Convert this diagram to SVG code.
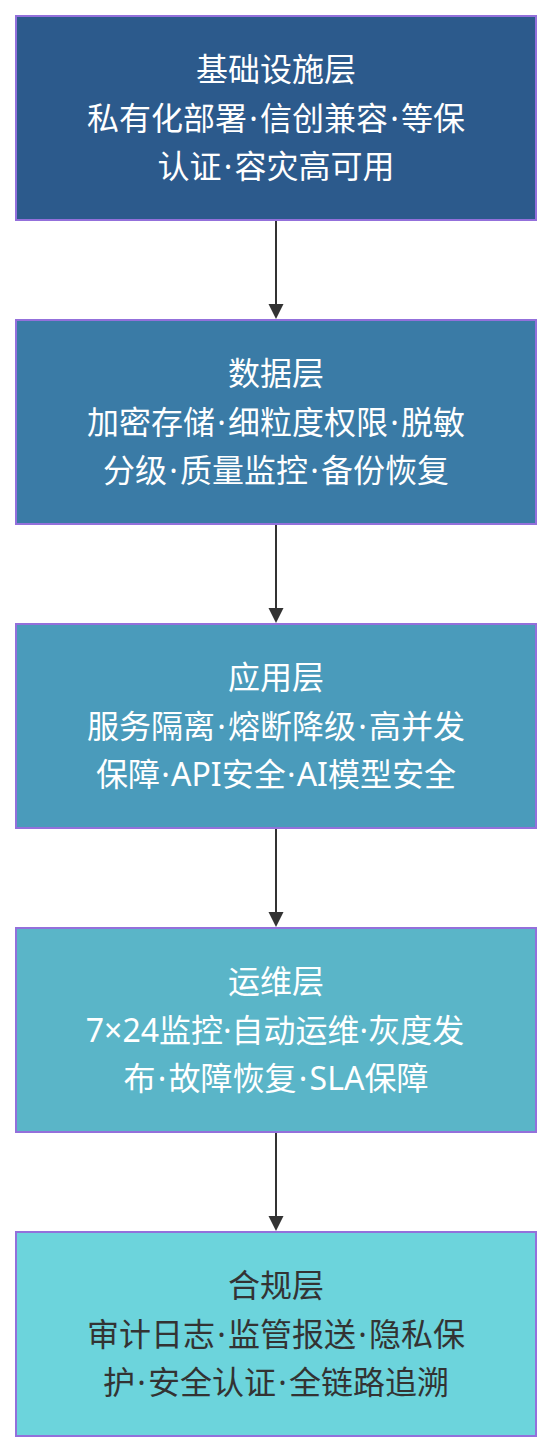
<svg xmlns="http://www.w3.org/2000/svg" width="552" height="1452" viewBox="0 0 552 1452">
<style>
.box{stroke:#9370DB;stroke-width:2}
.t{font-family:"Noto Sans","Noto Sans CJK SC",sans-serif;font-size:32px;text-anchor:middle;fill:#ffffff}
.dark{fill:#333333}
.edge{stroke:#333333;stroke-width:2;fill:none}
</style>
<rect width="552" height="1452" fill="#ffffff"/>
<g id="connectors">
<line class="edge" x1="276" y1="220" x2="276" y2="305"/>
<polygon points="268.5,304 283.5,304 276,319" fill="#333333"/>
<line class="edge" x1="276" y1="524" x2="276" y2="609"/>
<polygon points="268.5,608 283.5,608 276,623" fill="#333333"/>
<line class="edge" x1="276" y1="828" x2="276" y2="913"/>
<polygon points="268.5,912 283.5,912 276,927" fill="#333333"/>
<line class="edge" x1="276" y1="1132" x2="276" y2="1217"/>
<polygon points="268.5,1216 283.5,1216 276,1231" fill="#333333"/>
</g>
<g id="infra">
<rect class="box" x="16" y="16" width="520" height="204" fill="#2C5A8C"/>
<text class="t" x="276" y="81">基础设施层</text>
<text class="t" x="276" y="130">私有化部署<tspan dx="2.2">·</tspan><tspan dx="2.2">信创兼容</tspan><tspan dx="2.2">·</tspan><tspan dx="2.2">等保</tspan></text>
<text class="t" x="276" y="178">认证<tspan dx="2.2">·</tspan><tspan dx="2.2">容灾高可用</tspan></text>
</g>
<g id="data">
<rect class="box" x="16" y="320" width="520" height="204" fill="#3A7BA6"/>
<text class="t" x="276" y="385">数据层</text>
<text class="t" x="276" y="434">加密存储<tspan dx="2.2">·</tspan><tspan dx="2.2">细粒度权限</tspan><tspan dx="2.2">·</tspan><tspan dx="2.2">脱敏</tspan></text>
<text class="t" x="276" y="482">分级<tspan dx="2.2">·</tspan><tspan dx="2.2">质量监控</tspan><tspan dx="2.2">·</tspan><tspan dx="2.2">备份恢复</tspan></text>
</g>
<g id="app">
<rect class="box" x="16" y="624" width="520" height="204" fill="#4A9BBB"/>
<text class="t" x="276" y="689">应用层</text>
<text class="t" x="276" y="738">服务隔离<tspan dx="2.2">·</tspan><tspan dx="2.2">熔断降级</tspan><tspan dx="2.2">·</tspan><tspan dx="2.2">高并发</tspan></text>
<text class="t" x="276" y="786">保障<tspan dx="1.2">·</tspan><tspan dx="1.2">API安全</tspan><tspan dx="1.2">·</tspan><tspan dx="1.2">AI模型安全</tspan></text>
</g>
<g id="ops">
<rect class="box" x="16" y="928" width="520" height="204" fill="#5AB5C8"/>
<text class="t" x="276" y="993">运维层</text>
<text class="t" x="275" y="1042">7×24监控·自动运维·灰度发</text>
<text class="t" x="276" y="1090">布<tspan dx="2.2">·</tspan><tspan dx="2.2">故障恢复</tspan><tspan dx="2.2">·</tspan><tspan dx="2.2">SLA保障</tspan></text>
</g>
<g id="compliance">
<rect class="box" x="16" y="1232" width="520" height="204" fill="#6CD4DC"/>
<text class="t dark" x="276" y="1297">合规层</text>
<text class="t dark" x="276" y="1346">审计日志<tspan dx="2.2">·</tspan><tspan dx="2.2">监管报送</tspan><tspan dx="2.2">·</tspan><tspan dx="2.2">隐私保</tspan></text>
<text class="t dark" x="276" y="1394">护<tspan dx="2.2">·</tspan><tspan dx="2.2">安全认证</tspan><tspan dx="2.2">·</tspan><tspan dx="2.2">全链路追溯</tspan></text>
</g>
</svg>
